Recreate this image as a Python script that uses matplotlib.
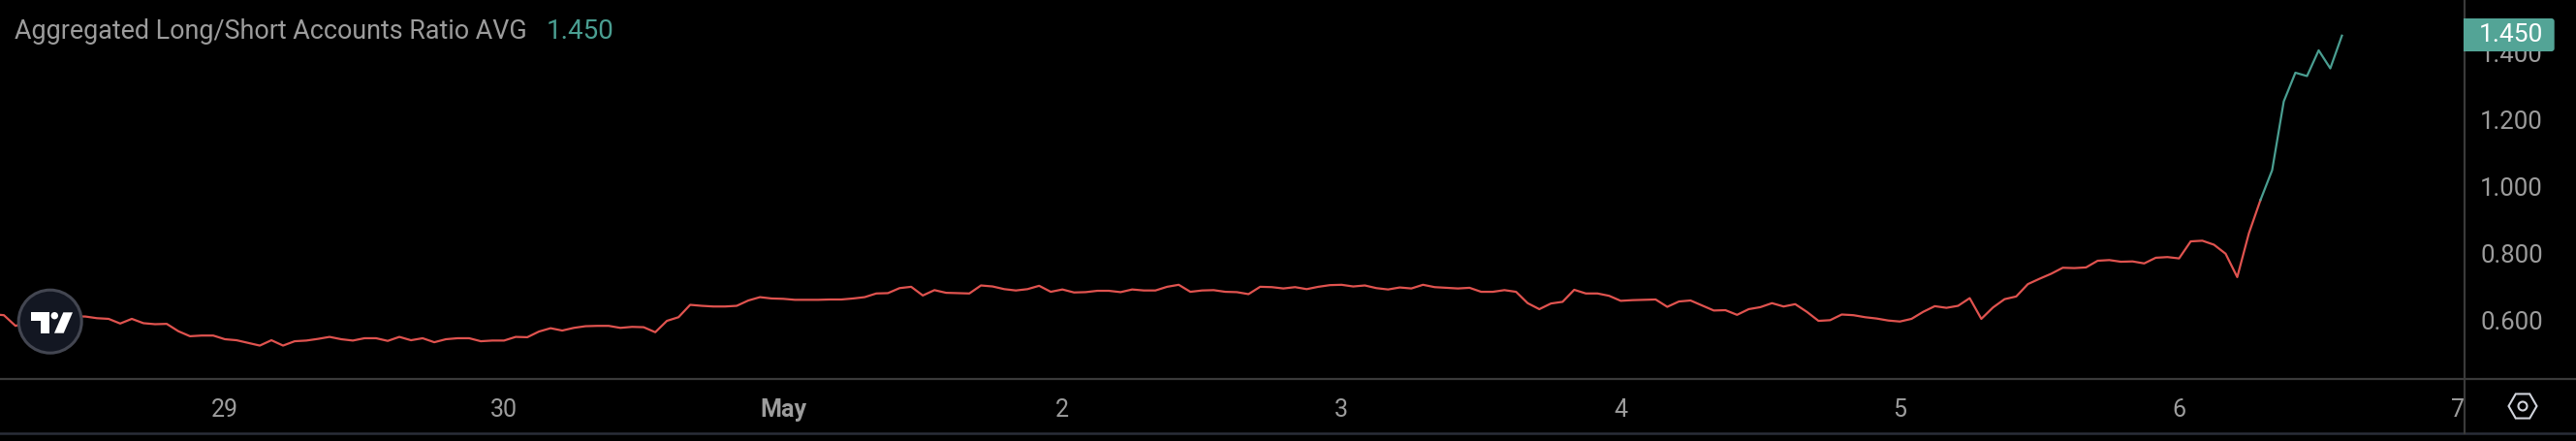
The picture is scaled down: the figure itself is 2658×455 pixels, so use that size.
import matplotlib
matplotlib.use("Agg")
import matplotlib.pyplot as plt
import matplotlib.patches as mpatches
import numpy as np
import pandas as pd

TITLE = "Aggregated Long/Short Accounts Ratio AVG"
LAST_LABEL = "1.450"

# hourly values, first point is Apr 28 04:00
ratio_values = [
	0.616, 0.613, 0.581, 0.592, 0.597, 0.602, 0.607, 0.609, 0.609, 0.604,
	0.602, 0.588, 0.602, 0.589, 0.586, 0.587, 0.565, 0.550, 0.552, 0.552,
	0.541, 0.538, 0.530, 0.522, 0.538, 0.522, 0.535, 0.537, 0.542, 0.548,
	0.541, 0.537, 0.544, 0.544, 0.536, 0.548, 0.538, 0.544, 0.532, 0.541,
	0.544, 0.544, 0.535, 0.537, 0.537, 0.548, 0.547, 0.564, 0.574, 0.567,
	0.575, 0.580, 0.581, 0.581, 0.575, 0.578, 0.577, 0.562, 0.596, 0.607,
	0.644, 0.641, 0.639, 0.639, 0.641, 0.657, 0.667, 0.663, 0.662, 0.659,
	0.659, 0.659, 0.660, 0.660, 0.663, 0.667, 0.678, 0.679, 0.694, 0.698,
	0.672, 0.688, 0.680, 0.679, 0.678, 0.702, 0.699, 0.691, 0.687, 0.691,
	0.701, 0.683, 0.690, 0.681, 0.682, 0.686, 0.686, 0.682, 0.690, 0.687,
	0.687, 0.698, 0.704, 0.683, 0.687, 0.688, 0.683, 0.682, 0.676, 0.698,
	0.697, 0.693, 0.697, 0.691, 0.698, 0.703, 0.704, 0.699, 0.702, 0.694,
	0.690, 0.696, 0.693, 0.704, 0.697, 0.695, 0.693, 0.695, 0.683, 0.683,
	0.688, 0.683, 0.649, 0.631, 0.648, 0.653, 0.689, 0.678, 0.678, 0.671,
	0.656, 0.658, 0.659, 0.660, 0.638, 0.654, 0.657, 0.642, 0.627, 0.628,
	0.614, 0.631, 0.637, 0.649, 0.639, 0.646, 0.623, 0.596, 0.598, 0.615,
	0.613, 0.607, 0.603, 0.597, 0.594, 0.602, 0.623, 0.640, 0.635, 0.641,
	0.664, 0.602, 0.636, 0.661, 0.669, 0.706, 0.722, 0.737, 0.755, 0.754,
	0.756, 0.776, 0.778, 0.773, 0.774, 0.768, 0.785, 0.787, 0.783, 0.834,
	0.836, 0.824, 0.797, 0.727, 0.858, 0.958, 1.047, 1.253, 1.339, 1.329,
	1.406, 1.352, 1.450,
]
# the line turns green from this reading on
GREEN_FROM = 0.958

day_ticks = ["2024-04-29", "2024-04-30", "2024-05-01", "2024-05-02", "2024-05-03",
	"2024-05-04", "2024-05-05", "2024-05-06", "2024-05-07"]
day_labels = ["29", "30", "May", "2", "3", "4", "5", "6", "7"]
price_ticks = [0.6, 0.8, 1.0, 1.2, 1.4]

RED = "#e0534f"
GREEN = "#4a9e91"
GRID = "#3a3a3a"
TEXT = "#9c9c9c"
WIDTH, HEIGHT = 2658, 456
PLOT_RIGHT, PLOT_BOTTOM = 2542.5, 392


def draw_logo(over):
	"""TradingView badge, in pixel coordinates of the overlay."""
	over.add_patch(mpatches.Circle((51.7, 332.7), 32.5, fc="#131722", ec="#434651", lw=2.2))
	t_shape = [(31.7, 323.3), (50.7, 323.3), (50.7, 344.7), (42, 344.7), (42, 331.7), (31.7, 331.7)]
	slash = [(65.3, 323.3), (75, 323.3), (65.7, 344.7), (56, 344.7)]
	over.add_patch(mpatches.Polygon(t_shape, fc="white", ec="none"))
	over.add_patch(mpatches.Polygon(slash, fc="white", ec="none"))
	over.add_patch(mpatches.Circle((56.3, 326.7), 3.7, fc="white", ec="none"))


def draw_settings(over):
	"""Hexagon settings icon under the price scale."""
	cx, cy = 2603, 420
	angles = np.radians(np.arange(0, 360, 60))
	corners = np.column_stack([cx + 14.5 * np.cos(angles), cy + 14.5 * np.sin(angles)])
	over.add_patch(mpatches.Polygon(corners, fc="none", ec="#d1d4dc", lw=1.5))
	over.add_patch(mpatches.Circle((cx, cy), 4.5, fc="none", ec="#d1d4dc", lw=1.5))


def main():
	plt.rcParams["font.family"] = ["Roboto", "DejaVu Sans"]
	fig = plt.figure(figsize=(WIDTH / 100, HEIGHT / 100), dpi=100, facecolor="black")
	ax = fig.add_axes([0, 1 - PLOT_BOTTOM / HEIGHT, PLOT_RIGHT / WIDTH, PLOT_BOTTOM / HEIGHT])
	ax.set_facecolor("black")

	times = pd.date_range("2024-04-28 04:00", periods=len(ratio_values), freq="h")
	values = np.array(ratio_values)
	split = int(np.argmax(values >= GREEN_FROM))
	ax.plot(times[:split + 1], values[:split + 1], color=RED, lw=1.6, solid_joinstyle="round")
	ax.plot(times[split:], values[split:], color=GREEN, lw=1.6, solid_joinstyle="round")

	ax.set_xlim(pd.Timestamp("2024-04-28 04:40"), pd.Timestamp("2024-05-07 00:30"))
	ax.set_ylim(0.422, 1.5596)

	ax.set_xticks(pd.to_datetime(day_ticks))
	ax.set_xticklabels(day_labels)
	ax.set_yticks(price_ticks)
	ax.set_yticklabels([f"{p:.3f}" for p in price_ticks])
	ax.yaxis.tick_right()
	ax.tick_params(axis="x", length=0, pad=14, labelsize=18, labelcolor=TEXT)
	ax.tick_params(axis="y", length=0, pad=12, labelsize=18.5, labelcolor=TEXT)
	ax.get_xticklabels()[2].set_fontweight("bold")
	for name in ["top", "left"]:
		ax.spines[name].set_visible(False)
	for name in ["right", "bottom"]:
		ax.spines[name].set_color(GRID)
		ax.spines[name].set_linewidth(1.6)

	# overlay in pixels for the header, badge, price tag and lines outside the plot
	over = fig.add_axes([0, 0, 1, 1], facecolor="none")
	over.set_xlim(0, WIDTH)
	over.set_ylim(HEIGHT, 0)
	over.axis("off")

	over.text(15, 32, TITLE, color=TEXT, fontsize=19.4, va="center", ha="left")
	over.text(564, 32, LAST_LABEL, color=GREEN, fontsize=20, va="center", ha="left")

	over.plot([0, WIDTH], [448, 448], color="#2a2e39", lw=1.8)
	over.plot([PLOT_RIGHT, WIDTH], [PLOT_BOTTOM, PLOT_BOTTOM], color=GRID, lw=1.6)
	over.plot([PLOT_RIGHT, PLOT_RIGHT], [PLOT_BOTTOM, 448], color=GRID, lw=1.6)

	over.add_patch(mpatches.FancyBboxPatch((2542, 20), 93.7, 34, boxstyle="round,pad=0,rounding_size=3",
		fc="#53a496", ec="none", zorder=3))
	over.add_patch(mpatches.Rectangle((2542, 20), 10, 34, fc="#53a496", ec="none", zorder=3))
	over.text(2624, 36, LAST_LABEL, color="white", fontsize=19, va="center", ha="right", zorder=4)

	draw_logo(over)
	draw_settings(over)

	fig.savefig("out.png", dpi=100, facecolor="black")


if __name__ == "__main__":
	main()
